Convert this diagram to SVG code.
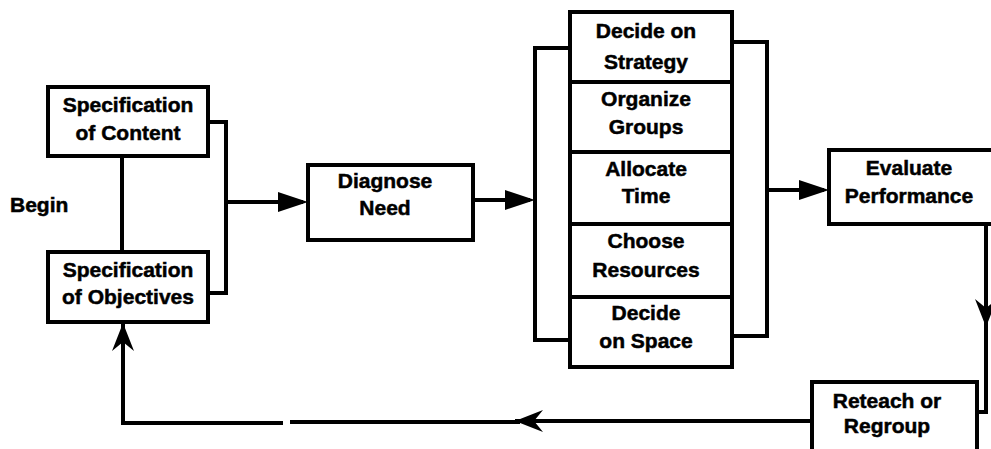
<svg xmlns="http://www.w3.org/2000/svg" width="991" height="449" viewBox="0 0 991 449">
  <style>
    .box { fill: #fff; stroke: #000; stroke-width: 4; }
    .wire { fill: none; stroke: #000; stroke-width: 4; stroke-linejoin: miter; }
    .lbl { font-family: "Liberation Sans", Arial, Helvetica, sans-serif; font-weight: bold; font-size: 21px; fill: #000; stroke: #000; stroke-width: 0.5; text-anchor: middle; }
  </style>
  <defs>
    <!-- solid triangular head for the forward flow -->
    <marker id="tri" markerUnits="userSpaceOnUse" markerWidth="32" markerHeight="22" refX="25" refY="10" orient="auto">
      <path d="M0,0 L30,10 L0,20 Z" fill="#000"/>
    </marker>
    <!-- barbed head for the return loop -->
    <marker id="barb" markerUnits="userSpaceOnUse" markerWidth="32" markerHeight="24" refX="28" refY="11" orient="auto">
      <path d="M0,0 L28,11 L0,22 L9,11 Z" fill="#000"/>
    </marker>
  </defs>

  <rect width="991" height="449" fill="#fff"/>

  <g id="connectors">
    <!-- joins the two specification boxes -->
    <path class="wire" d="M122,156 V252"/>
    <path class="wire" d="M208,122 H226 V293 H208"/>
    <path class="wire" d="M226,202 H303" marker-end="url(#tri)"/>
    <!-- diagnose to the planning stack -->
    <path class="wire" d="M473,200 H530" marker-end="url(#tri)"/>
    <path class="wire" d="M570,48 H535 V340 H570"/>
    <path class="wire" d="M732,42 H767 V336 H732"/>
    <path class="wire" d="M767,190 H824" marker-end="url(#tri)"/>
    <!-- evaluation down to reteach -->
    <path class="wire" d="M986,224 V327" marker-end="url(#barb)"/>
    <path class="wire" d="M986,320 V412 H977"/>
    <!-- return loop back to objectives -->
    <path class="wire" d="M812,421 H515" marker-end="url(#barb)"/>
    <path class="wire" d="M520,422 H290"/>
    <path class="wire" d="M283,423 H123 V323" marker-end="url(#barb)"/>
  </g>

  <g id="begin">
    <text class="lbl" x="10" y="212" style="text-anchor:start">Begin</text>
  </g>

  <g id="spec-content">
    <rect class="box" x="48" y="87" width="160" height="69"/>
    <text class="lbl" x="128" y="112">Specification</text>
    <text class="lbl" x="128" y="140">of Content</text>
  </g>

  <g id="spec-objectives">
    <rect class="box" x="48" y="252" width="160" height="70"/>
    <text class="lbl" x="128" y="277">Specification</text>
    <text class="lbl" x="128" y="304">of Objectives</text>
  </g>

  <g id="diagnose">
    <rect class="box" x="308" y="165" width="165" height="75"/>
    <text class="lbl" x="385" y="188">Diagnose</text>
    <text class="lbl" x="385" y="215">Need</text>
  </g>

  <g id="strategy">
    <rect class="box" x="570" y="12" width="162" height="70"/>
    <text class="lbl" x="646" y="38">Decide on</text>
    <text class="lbl" x="646" y="69">Strategy</text>
  </g>

  <g id="groups">
    <rect class="box" x="570" y="82" width="162" height="70"/>
    <text class="lbl" x="646" y="106">Organize</text>
    <text class="lbl" x="646" y="134">Groups</text>
  </g>

  <g id="time">
    <rect class="box" x="570" y="152" width="162" height="72"/>
    <text class="lbl" x="646" y="176">Allocate</text>
    <text class="lbl" x="646" y="203">Time</text>
  </g>

  <g id="resources">
    <rect class="box" x="570" y="224" width="162" height="73"/>
    <text class="lbl" x="646" y="248">Choose</text>
    <text class="lbl" x="646" y="277">Resources</text>
  </g>

  <g id="space">
    <rect class="box" x="570" y="297" width="162" height="70"/>
    <text class="lbl" x="646" y="320">Decide</text>
    <text class="lbl" x="646" y="348">on Space</text>
  </g>

  <g id="evaluate">
    <rect class="box" x="829" y="150" width="175" height="74"/>
    <text class="lbl" x="909" y="175">Evaluate</text>
    <text class="lbl" x="909" y="203">Performance</text>
  </g>

  <g id="reteach">
    <rect class="box" x="812" y="382" width="165" height="90"/>
    <text class="lbl" x="887" y="408">Reteach or</text>
    <text class="lbl" x="887" y="433">Regroup</text>
  </g>
</svg>
